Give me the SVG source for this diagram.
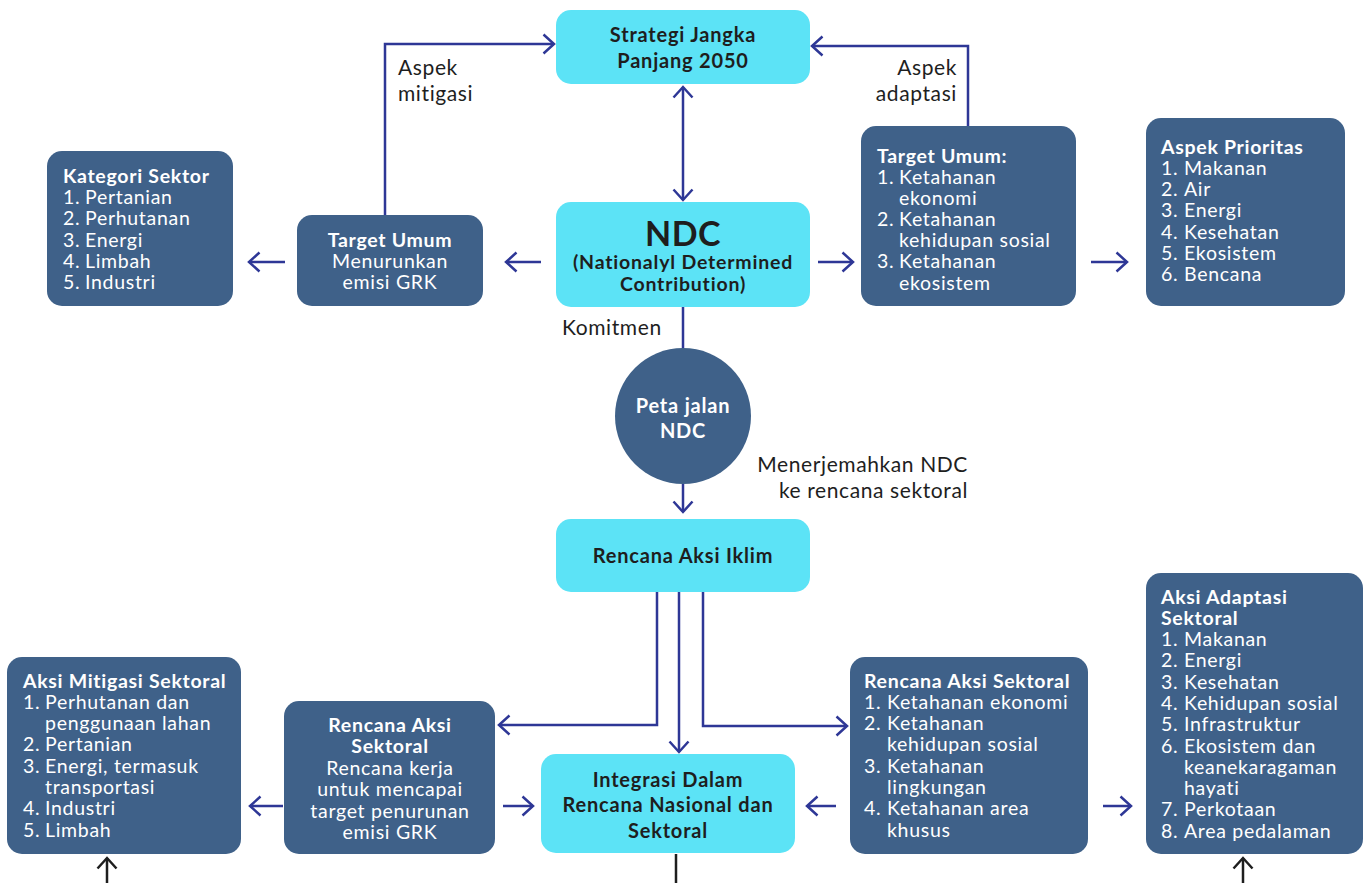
<svg xmlns="http://www.w3.org/2000/svg" width="1371" height="883" viewBox="0 0 1371 883">
<style>
.cy{fill:#5ce3f6}
.dk{fill:#3f6189}
.t{font-family:Lato,"Liberation Sans",sans-serif;font-size:19.5px;letter-spacing:0.7px}
.lb{font-size:21px;letter-spacing:0.6px}
.h{font-size:20px;letter-spacing:0.8px}
.b{font-weight:bold}
.w{fill:#ffffff}
.k{fill:#1e1e1e}
.c{text-anchor:middle}
.r{text-anchor:end}
.ln{fill:none;stroke:#2e3796;stroke-width:2.5}
.bl{fill:none;stroke:#1e1e1e;stroke-width:2.5}
</style>
<defs>
<marker id="ah" viewBox="0 0 14 22" refX="12" refY="11" markerWidth="14" markerHeight="22" markerUnits="userSpaceOnUse" orient="auto-start-reverse">
<path d="M1.5,1.5 L12,11 L1.5,20.5" fill="none" stroke="#2e3796" stroke-width="2.5"/>
</marker>
<marker id="ahk" viewBox="0 0 14 22" refX="12" refY="11" markerWidth="14" markerHeight="22" markerUnits="userSpaceOnUse" orient="auto">
<path d="M1.5,1.5 L12,11 L1.5,20.5" fill="none" stroke="#1e1e1e" stroke-width="2.5"/>
</marker>
</defs>
<rect width="1371" height="883" fill="#ffffff"/>

<g id="connectors">
<polyline class="ln" points="385,215 385,44 554,44" marker-end="url(#ah)"/>
<polyline class="ln" points="968,126 968,46 812,46" marker-end="url(#ah)"/>
<line class="ln" x1="683" y1="87" x2="683" y2="200" marker-start="url(#ah)" marker-end="url(#ah)"/>
<line class="ln" x1="541" y1="262" x2="506" y2="262" marker-end="url(#ah)"/>
<line class="ln" x1="285" y1="262" x2="249" y2="262" marker-end="url(#ah)"/>
<line class="ln" x1="818" y1="262" x2="853" y2="262" marker-end="url(#ah)"/>
<line class="ln" x1="1091" y1="262" x2="1127" y2="262" marker-end="url(#ah)"/>
<line class="ln" x1="683" y1="307" x2="683" y2="349"/>
<line class="ln" x1="683" y1="484" x2="683" y2="512" marker-end="url(#ah)"/>
<polyline class="ln" points="657,592 657,725 499,725" marker-end="url(#ah)"/>
<line class="ln" x1="679" y1="592" x2="679" y2="752" marker-end="url(#ah)"/>
<polyline class="ln" points="703,592 703,726 847,726" marker-end="url(#ah)"/>
<line class="ln" x1="503" y1="806" x2="533" y2="806" marker-end="url(#ah)"/>
<line class="ln" x1="836" y1="806" x2="807" y2="806" marker-end="url(#ah)"/>
<line class="ln" x1="283" y1="806" x2="250" y2="806" marker-end="url(#ah)"/>
<line class="ln" x1="1103" y1="806" x2="1131" y2="806" marker-end="url(#ah)"/>
<line class="bl" x1="676" y1="854" x2="676" y2="883"/>
<line class="bl" x1="107" y1="883" x2="107" y2="858" marker-end="url(#ahk)"/>
<line class="bl" x1="1243" y1="883" x2="1243" y2="858" marker-end="url(#ahk)"/>
</g>

<g id="labels">
<text class="t lb k" x="398" y="75">Aspek</text>
<text class="t lb k" x="398" y="101">mitigasi</text>
<text class="t lb k r" x="957" y="75">Aspek</text>
<text class="t lb k r" x="957" y="101">adaptasi</text>
<text class="t lb k" x="562" y="335">Komitmen</text>
<text class="t lb k r" x="968" y="472">Menerjemahkan NDC</text>
<text class="t lb k r" x="968" y="498">ke rencana sektoral</text>
</g>

<g id="strategi">
<rect class="cy" x="556" y="10" width="254" height="74" rx="15"/>
<text class="t h b k c" x="683" y="42">Strategi Jangka</text>
<text class="t h b k c" x="683" y="68">Panjang 2050</text>
</g>

<g id="ndc">
<rect class="cy" x="556" y="202" width="254" height="105" rx="15"/>
<text class="t b k c" x="683" y="246" style="font-size:34px;letter-spacing:0.5px">NDC</text>
<text class="t b k c" x="683" y="268.5" style="font-size:19.5px;letter-spacing:0.8px">(Nationalyl Determined</text>
<text class="t b k c" x="683" y="291" style="font-size:19.5px;letter-spacing:0.8px">Contribution)</text>
</g>

<g id="target-mitigasi">
<rect class="dk" x="297" y="215" width="186" height="91" rx="15"/>
<text class="t b w c" x="390" y="247">Target Umum</text>
<text class="t w c" x="390" y="268">Menurunkan</text>
<text class="t w c" x="390" y="289">emisi GRK</text>
</g>

<g id="kategori-sektor">
<rect class="dk" x="47" y="151" width="186" height="155" rx="15"/>
<text class="t b w" x="63" y="183">Kategori Sektor</text>
<text class="t w" x="63" y="204">1.</text><text class="t w" x="85" y="204">Pertanian</text>
<text class="t w" x="63" y="225">2.</text><text class="t w" x="85" y="225">Perhutanan</text>
<text class="t w" x="63" y="247">3.</text><text class="t w" x="85" y="247">Energi</text>
<text class="t w" x="63" y="268">4.</text><text class="t w" x="85" y="268">Limbah</text>
<text class="t w" x="63" y="289">5.</text><text class="t w" x="85" y="289">Industri</text>
</g>

<g id="target-adaptasi">
<rect class="dk" x="861" y="126" width="215" height="180" rx="15"/>
<text class="t b w" x="877" y="163">Target Umum:</text>
<text class="t w" x="877" y="184">1.</text><text class="t w" x="899" y="184">Ketahanan</text>
<text class="t w" x="899" y="205">ekonomi</text>
<text class="t w" x="877" y="226">2.</text><text class="t w" x="899" y="226">Ketahanan</text>
<text class="t w" x="899" y="247">kehidupan sosial</text>
<text class="t w" x="877" y="268">3.</text><text class="t w" x="899" y="268">Ketahanan</text>
<text class="t w" x="899" y="290">ekosistem</text>
</g>

<g id="aspek-prioritas">
<rect class="dk" x="1146" y="118" width="199" height="188" rx="15"/>
<text class="t b w" x="1161" y="154">Aspek Prioritas</text>
<text class="t w" x="1161" y="175">1.</text><text class="t w" x="1184" y="175">Makanan</text>
<text class="t w" x="1161" y="196">2.</text><text class="t w" x="1184" y="196">Air</text>
<text class="t w" x="1161" y="217">3.</text><text class="t w" x="1184" y="217">Energi</text>
<text class="t w" x="1161" y="239">4.</text><text class="t w" x="1184" y="239">Kesehatan</text>
<text class="t w" x="1161" y="260">5.</text><text class="t w" x="1184" y="260">Ekosistem</text>
<text class="t w" x="1161" y="281">6.</text><text class="t w" x="1184" y="281">Bencana</text>
</g>

<g id="peta-jalan">
<circle class="dk" cx="683" cy="416" r="68"/>
<text class="t h b w c" x="683" y="413">Peta jalan</text>
<text class="t h b w c" x="683" y="438">NDC</text>
</g>

<g id="rencana-aksi-iklim">
<rect class="cy" x="556" y="519" width="254" height="73" rx="15"/>
<text class="t h b k c" x="683" y="563">Rencana Aksi Iklim</text>
</g>

<g id="integrasi">
<rect class="cy" x="541" y="754" width="254" height="99" rx="15"/>
<text class="t h b k c" x="668" y="787">Integrasi Dalam</text>
<text class="t h b k c" x="668" y="812">Rencana Nasional dan</text>
<text class="t h b k c" x="668" y="838">Sektoral</text>
</g>

<g id="rencana-mitigasi">
<rect class="dk" x="284" y="701" width="211" height="153" rx="15"/>
<text class="t b w c" x="390" y="732">Rencana Aksi</text>
<text class="t b w c" x="390" y="753">Sektoral</text>
<text class="t w c" x="390" y="775">Rencana kerja</text>
<text class="t w c" x="390" y="796">untuk mencapai</text>
<text class="t w c" x="390" y="818">target penurunan</text>
<text class="t w c" x="390" y="839">emisi GRK</text>
</g>

<g id="aksi-mitigasi">
<rect class="dk" x="7" y="657" width="234" height="197" rx="15"/>
<text class="t b w" x="23" y="688">Aksi Mitigasi Sektoral</text>
<text class="t w" x="23" y="709">1.</text><text class="t w" x="45" y="709">Perhutanan dan</text>
<text class="t w" x="45" y="730">penggunaan lahan</text>
<text class="t w" x="23" y="751">2.</text><text class="t w" x="45" y="751">Pertanian</text>
<text class="t w" x="23" y="773">3.</text><text class="t w" x="45" y="773">Energi, termasuk</text>
<text class="t w" x="45" y="794">transportasi</text>
<text class="t w" x="23" y="815">4.</text><text class="t w" x="45" y="815">Industri</text>
<text class="t w" x="23" y="837">5.</text><text class="t w" x="45" y="837">Limbah</text>
</g>

<g id="rencana-adaptasi">
<rect class="dk" x="850" y="657" width="238" height="197" rx="15"/>
<text class="t b w" x="864" y="688">Rencana Aksi Sektoral</text>
<text class="t w" x="864" y="709">1.</text><text class="t w" x="887" y="709">Ketahanan ekonomi</text>
<text class="t w" x="864" y="730">2.</text><text class="t w" x="887" y="730">Ketahanan</text>
<text class="t w" x="887" y="751">kehidupan sosial</text>
<text class="t w" x="864" y="773">3.</text><text class="t w" x="887" y="773">Ketahanan</text>
<text class="t w" x="887" y="794">lingkungan</text>
<text class="t w" x="864" y="815">4.</text><text class="t w" x="887" y="815">Ketahanan area</text>
<text class="t w" x="887" y="837">khusus</text>
</g>

<g id="aksi-adaptasi">
<rect class="dk" x="1146" y="573" width="217" height="281" rx="15"/>
<text class="t b w" x="1161" y="604">Aksi Adaptasi</text>
<text class="t b w" x="1161" y="625">Sektoral</text>
<text class="t w" x="1161" y="646">1.</text><text class="t w" x="1184" y="646">Makanan</text>
<text class="t w" x="1161" y="667">2.</text><text class="t w" x="1184" y="667">Energi</text>
<text class="t w" x="1161" y="689">3.</text><text class="t w" x="1184" y="689">Kesehatan</text>
<text class="t w" x="1161" y="710">4.</text><text class="t w" x="1184" y="710">Kehidupan sosial</text>
<text class="t w" x="1161" y="731">5.</text><text class="t w" x="1184" y="731">Infrastruktur</text>
<text class="t w" x="1161" y="753">6.</text><text class="t w" x="1184" y="753">Ekosistem dan</text>
<text class="t w" x="1184" y="774">keanekaragaman</text>
<text class="t w" x="1184" y="795">hayati</text>
<text class="t w" x="1161" y="816">7.</text><text class="t w" x="1184" y="816">Perkotaan</text>
<text class="t w" x="1161" y="838">8.</text><text class="t w" x="1184" y="838">Area pedalaman</text>
</g>
</svg>
